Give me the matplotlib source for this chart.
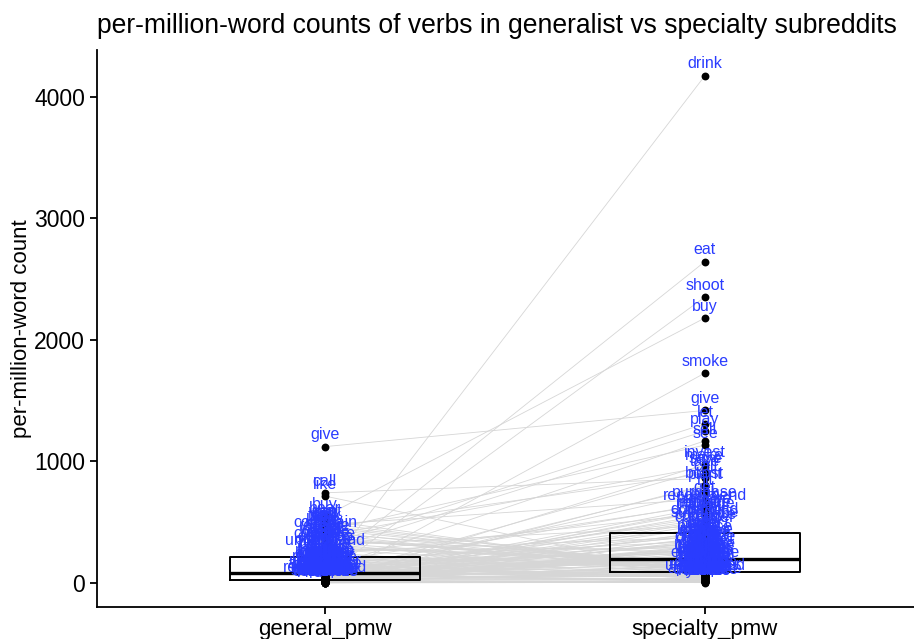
import numpy as np
import matplotlib.pyplot as plt

plt.rcParams['font.family'] = ['Liberation Sans', 'DejaVu Sans']

# verb list with per-million-word counts in each kind of subreddit
verbs = [
    'drink', 'eat', 'shoot', 'buy', 'smoke', 'give', 'let', 'play', 'sell', 'see',
    'invest', 'make', 'save', 'take', 'call', 'boost', 'plant', 'hit', 'get', 'pick',
    'grow', 'cook', 'trade', 'pour', 'brew',
    'ride', 'wear', 'fix', 'roll', 'mix', 'taste', 'light', 'burn', 'craft', 'mine',
    'farm', 'fish', 'hunt', 'catch', 'kill', 'fight', 'load', 'aim', 'fire', 'hold',
    'carry', 'throw', 'build', 'drive', 'win',
    'lose', 'spend', 'watch', 'read', 'pay', 'bring', 'put', 'leave', 'run', 'keep',
    'start', 'work', 'tell', 'feel', 'need', 'use', 'try', 'find', 'look', 'say',
    'want', 'think', 'know', 'go', 'show',
    'hear', 'mean', 'wait', 'ask', 'help', 'learn', 'teach', 'study', 'answer', 'stop',
    'move', 'change', 'open', 'close', 'check', 'count', 'add', 'remove', 'return', 'ship',
    'order', 'collect', 'store', 'sort', 'like',
    'purchase', 'recommend', 'prepare', 'replace', 'upgrade', 'install', 'download',
    'subscribe', 'compare', 'consider', 'protect', 'practice', 'improve', 'release',
    'deliver', 'organize', 'discover', 'decide', 'measure', 'combine', 'transfer',
    'process', 'develop', 'explore', 'exchange', 'maintain', 'breathe', 'finish',
    'receive', 'travel', 'struggle', 'survive', 'complain', 'believe', 'remember',
    'understand', 'happen', 'appreciate', 'celebrate', 'hydrate',
]

general_pmw = [
    92, 150, 64, 548, 18, 1122, 310, 265, 120, 430,
    12, 390, 55, 455, 742, 4, 33, 50, 480, 175,
    28, 70, 9, 6, 2,
    110, 85, 260, 45, 15, 22, 130, 98, 3, 11,
    7, 40, 26, 160, 23, 190, 19, 8, 52, 17,
    105, 88, 140, 125, 180,
    78, 60, 285, 350, 300, 205, 410, 20, 195, 34,
    170, 360, 470, 440, 330, 6, 44, 165, 275, 370,
    492, 460, 420, 62, 100,
    515, 145, 95, 115, 82, 72, 48, 36, 58, 80,
    135, 155, 30, 24, 42, 21, 66, 75, 14, 5,
    10, 16, 1, 13, 715,
    120, 30, 12, 240, 18, 95, 45,
    6, 310, 150, 70, 22, 190, 56,
    9, 265, 130, 340, 14, 38, 3,
    110, 290, 68, 20, 175, 230, 49,
    380, 11, 140, 27, 400, 320, 90,
    250, 160, 62, 2, 74,
]

specialty_pmw = [
    4175, 2645, 2354, 2181, 1728, 1420, 1310, 1250, 1170, 1135,
    975, 955, 930, 900, 860, 805, 795, 745, 690, 640,
    585, 540, 500, 455, 420,
    405, 392, 378, 366, 351, 340, 326, 315, 303, 296,
    284, 275, 263, 255, 247, 240, 233, 226, 220, 214,
    210, 206, 203, 201, 199,
    196, 190, 183, 176, 170, 163, 157, 150, 146, 141,
    136, 131, 127, 122, 118, 114, 110, 106, 103, 100,
    97, 95, 93, 91, 90,
    87, 83, 78, 74, 70, 66, 61, 57, 53, 49,
    45, 41, 37, 33, 29, 25, 21, 18, 15, 12,
    9, 7, 5, 3, 62,
    650, 620, 600, 570, 560, 520, 510,
    480, 470, 440, 395, 372, 345, 330,
    310, 290, 270, 250, 230, 212, 192,
    185, 172, 160, 152, 143, 133, 124,
    112, 99, 86, 80, 71, 64, 55,
    47, 39, 27, 16, 8,
]

groups = ['general_pmw', 'specialty_pmw']
label_color = '#2a3cff'

fig = plt.figure(figsize=(9.14, 6.39), dpi=100)
ax = fig.add_axes([0.106, 0.050, 0.894, 0.872])

# paired lines
for g, s in zip(general_pmw, specialty_pmw):
    ax.plot([1, 2], [g, s], color='#d6d6d6', linewidth=0.6, zorder=1)

# boxplots (no fill, lines show through)
ax.boxplot([general_pmw, specialty_pmw], positions=[1, 2], widths=0.5,
           showcaps=False, showfliers=False,
           boxprops=dict(color='black', linewidth=1.4),
           whiskerprops=dict(color='black', linewidth=1.4),
           medianprops=dict(color='black', linewidth=2.4), zorder=2)

n = len(verbs)
ax.scatter(np.full(n, 1), general_pmw, s=32, color='black', zorder=3, linewidths=0)
ax.scatter(np.full(n, 2), specialty_pmw, s=32, color='black', zorder=3, linewidths=0)

for v, g, s in zip(verbs, general_pmw, specialty_pmw):
    ax.annotate(v, (1, g), xytext=(0, 3), textcoords='offset points',
                ha='center', va='bottom', color=label_color, fontsize=11.5, zorder=4)
    ax.annotate(v, (2, s), xytext=(0, 3), textcoords='offset points',
                ha='center', va='bottom', color=label_color, fontsize=11.5, zorder=4)

ax.set_xlim(0.4, 2.55)
ax.set_ylim(-198, 4387)
ax.set_xticks([1, 2], groups)
ax.set_yticks([0, 1000, 2000, 3000, 4000])
ax.spines['top'].set_visible(False)
ax.spines['right'].set_visible(False)
for sp in ['left', 'bottom']:
    ax.spines[sp].set_linewidth(1.3)
ax.tick_params(direction='out', length=5, width=1.3, colors='black')
ax.tick_params(axis='y', labelsize=16.5)
ax.tick_params(axis='x', labelsize=16)

ax.set_ylabel('per-million-word count', fontsize=16)
ax.yaxis.set_label_coords(-0.08, 0.5)
ax.set_title('per-million-word counts of verbs in generalist vs specialty subreddits',
             loc='left', fontsize=19.1, pad=12)

fig.savefig('out.png', dpi=100)
